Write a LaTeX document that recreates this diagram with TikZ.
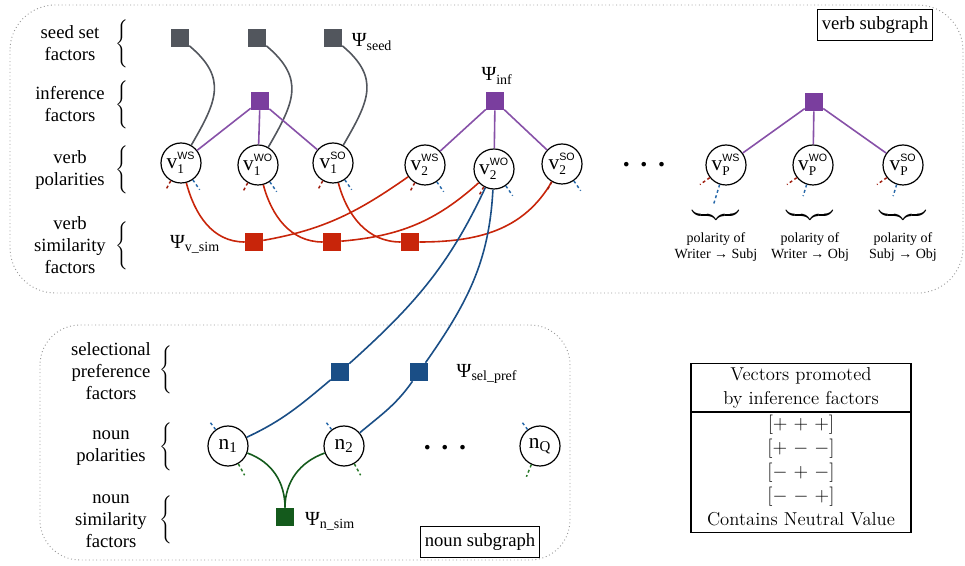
\documentclass[tikz,border=0pt]{standalone}
\usepackage{fontspec}
\usepackage{amsmath}
\newfontfamily\tms{Liberation Serif}
\newfontfamily\arl{Liberation Sans}

\definecolor{cseed}{RGB}{82,86,93}
\definecolor{cinf}{RGB}{122,62,158}
\definecolor{csim}{RGB}{200,37,10}
\definecolor{cpref}{RGB}{26,78,134}
\definecolor{cnsim}{RGB}{20,90,28}
\definecolor{cstubr}{RGB}{160,30,15}
\definecolor{cstubb}{RGB}{40,105,170}
\definecolor{cstubg}{RGB}{40,120,40}

\newcommand{\vpol}[2]{\makebox[0pt]{v$_{\hbox{\fontsize{10}{10}\selectfont#1}}^{\hbox{\arl\fontsize{8}{8}\selectfont#2}}$}}
\newcommand{\sbrace}{$\Bigg\{$}

\begin{document}
\begin{tikzpicture}[x=0.75pt, y=0.75pt,
    lab/.style={align=center, font=\tms\fontsize{14}{16.5}\selectfont},
    small/.style={align=center, font=\tms\fontsize{10.5}{12.5}\selectfont},
    psi/.style={font=\tms\fontsize{15}{17}\selectfont},
    brc/.style={inner sep=0pt, font=\fontsize{11.5}{12}\selectfont},
    var/.style={draw, circle, fill=white, line width=0.9pt, minimum size=30pt, inner sep=0pt, font=\tms\fontsize{16}{16}\selectfont},
    fac/.style={rectangle, minimum size=13.5pt, inner sep=0pt},
    seedline/.style={draw=cseed, line width=1.2pt, out=-40, in=60, looseness=1.3},
    infline/.style={draw=cinf!90, line width=1.2pt},
    simline/.style={draw=csim, line width=1.2pt},
    prefline/.style={draw=cpref, line width=1.2pt},
    nsimline/.style={draw=cnsim, line width=1.2pt},
    rstub/.style={draw=cstubr, line width=1.1pt, dash pattern=on 2.2pt off 2pt},
    bstub/.style={draw=cstubb, line width=1.1pt, dash pattern=on 2.2pt off 2pt},
    gstub/.style={draw=cstubg, line width=1.1pt, dash pattern=on 2.2pt off 2pt}]
  \useasboundingbox (0,0) rectangle (965,-566);

  % subgraph frames
  \draw[gray!80, dotted, line width=0.7pt, rounded corners=34pt] (10,-5) rectangle (963,-293);
  \draw[gray!80, dotted, line width=0.7pt, rounded corners=30pt] (40,-325) rectangle (570,-560);
  \node[draw, lab, line width=0.8pt, inner xsep=3pt, minimum height=23pt] (vsub) at (875,-25) {verb subgraph};
  \node[draw, lab, line width=0.8pt, inner xsep=3pt, minimum height=23pt] (nsub) at (480,-542) {noun subgraph};

  % row labels
  \node[lab] (lseed) at (70,-43) {seed set\\factors};
  \node[lab] (linf) at (70,-104) {inference\\factors};
  \node[lab] (lvpol) at (70,-170) {verb\\polarities};
  \node[lab] (lvsim) at (70,-245) {verb\\similarity\\factors};
  \node[lab] (lsel) at (111,-371) {selectional\\preference\\factors};
  \node[lab] (lnpol) at (111,-448) {noun\\polarities};
  \node[lab] (lnsim) at (111,-521) {noun\\similarity\\factors};
  \node[brc] (bseed) at (122,-44) {\sbrace};
  \node[brc] (binf) at (122,-105) {\sbrace};
  \node[brc] (bvpol) at (122,-170) {\sbrace};
  \node[brc] (bvsim) at (122,-246) {\sbrace};
  \node[brc] (bsel) at (166,-370) {\sbrace};
  \node[brc] (bnpol) at (166,-447) {\sbrace};
  \node[brc] (bnsim) at (166,-520) {\sbrace};

  % verb variables
  \node[var] (v1ws) at (181,-163) {\vpol{1}{WS}};
  \node[var] (v1wo) at (258,-165) {\vpol{1}{WO}};
  \node[var] (v1so) at (333,-163) {\vpol{1}{SO}};
  \node[var] (v2ws) at (425,-165) {\vpol{2}{WS}};
  \node[var] (v2wo) at (494,-169) {\vpol{2}{WO}};
  \node[var] (v2so) at (562,-164) {\vpol{2}{SO}};
  \node[var] (vpws) at (726,-165) {\vpol{P}{WS}};
  \node[var] (vpwo) at (813,-165) {\vpol{P}{WO}};
  \node[var] (vpso) at (903,-165) {\vpol{P}{SO}};
  \node[font=\tms\fontsize{21}{21}\selectfont\bfseries] (vdots) at (644,-165) {.\hspace{8pt}.\hspace{8pt}.};

  % noun variables
  \node[var] (n1) at (228,-446) {n\textsubscript{1}};
  \node[var] (n2) at (344,-446) {n\textsubscript{2}};
  \node[var] (nq) at (540,-446) {n\textsubscript{Q}};
  \node[font=\tms\fontsize{21}{21}\selectfont\bfseries] (ndots) at (445,-448) {.\hspace{8pt}.\hspace{8pt}.};

  % factors
  \node[fac, fill=cseed] (sd1) at (180,-38) {};
  \node[fac, fill=cseed] (sd2) at (257,-38) {};
  \node[fac, fill=cseed] (sd3) at (333,-38) {};
  \node[fac, fill=cinf] (if1) at (260,-101) {};
  \node[fac, fill=cinf] (if2) at (495,-101) {};
  \node[fac, fill=cinf] (if3) at (814,-102) {};
  \node[fac, fill=csim] (r1) at (254,-242) {};
  \node[fac, fill=csim] (r2) at (332,-242) {};
  \node[fac, fill=csim] (r3) at (410,-242) {};
  \node[fac, fill=cpref] (sp1) at (340,-372) {};
  \node[fac, fill=cpref] (sp2) at (419,-372) {};
  \node[fac, fill=cnsim] (g) at (285,-517) {};

  \node[psi] (pseed) at (372,-42) {Ψ\textsubscript{seed}};
  \node[psi] (pinf) at (497,-76) {Ψ\textsubscript{inf}};
  \node[psi] (pvsim) at (195,-244) {Ψ\textsubscript{v\_sim}};
  \node[psi] (psel) at (487,-374) {Ψ\textsubscript{sel\_pref}};
  \node[psi] (pnsim) at (330,-521) {Ψ\textsubscript{n\_sim}};

  % connections
  \draw[seedline] (sd1) to (v1ws) (sd2) to (v1wo) (sd3) to (v1so);
  \draw[infline] (if1) -- (v1ws) (if1) -- (v1wo) (if1) -- (v1so);
  \draw[infline] (if2) -- (v2ws) (if2) -- (v2wo) (if2) -- (v2so);
  \draw[infline] (if3) -- (vpws) (if3) -- (vpwo) (if3) -- (vpso);
  \draw[simline] (v1ws) to[out=-75,in=180] (r1) (r1) to[out=10,in=-145] (v2ws);
  \draw[simline] (v1wo) to[out=-75,in=180] (r2) (r2) to[out=5,in=-138] (v2wo);
  \draw[simline] (v1so) to[out=-75,in=180] (r3) (r3) to[out=0,in=-120] (v2so);
  \draw[prefline] (n1) to[out=25,in=-140] (sp1) (sp1) to[out=42,in=-115] (v2wo);
  \draw[prefline] (n2) to[out=40,in=-125] (sp2) (sp2) to[out=55,in=-93] (v2wo);
  \draw[nsimline] (n1) to[out=-20,in=90] (g) (n2) to[out=-160,in=90] (g);

  % loose ends
  \draw[rstub] (v1ws.-120) -- ++(-118:11) (v1wo.-120) -- ++(-118:11) (v1so.-120) -- ++(-118:11)
    (v2ws.-120) -- ++(-118:11) (v2wo.-120) -- ++(-118:11) (v2so.-120) -- ++(-118:11)
    (vpws.-142) -- ++(-145:12) (vpwo.-142) -- ++(-145:12) (vpso.-142) -- ++(-145:12);
  \draw[bstub] (v1ws.-55) -- ++(-55:12) (v1wo.-55) -- ++(-55:12) (v1so.-55) -- ++(-55:12)
    (v2ws.-55) -- ++(-55:12) (v2wo.-55) -- ++(-55:12) (v2so.-55) -- ++(-55:12)
    (vpws.-108) -- ++(-107:20) (vpwo.-108) -- ++(-107:12) (vpso.-108) -- ++(-107:12);
  \draw[bstub] (n1.127) -- ++(127:9) (n2.127) -- ++(127:9) (nq.127) -- ++(127:9);
  \draw[gstub] (n1.-60) -- ++(-61:13) (n2.-60) -- ++(-61:13) (nq.-115) -- ++(-112:13);

  % polarity braces
  \node[brc, scale=1.2] (bws) at (716,-215) {$\underbrace{\hspace{29pt}}$};
  \node[brc, scale=1.2] (bwo) at (810,-215) {$\underbrace{\hspace{29pt}}$};
  \node[brc, scale=1.2] (bso) at (903,-215) {$\underbrace{\hspace{29pt}}$};
  \node[small] (tws) at (716,-247) {polarity of\\Writer → Subj};
  \node[small] (two) at (810,-247) {polarity of\\Writer → Obj};
  \node[small] (tso) at (903,-247) {polarity of\\Subj → Obj};

  % table
  \node[draw, line width=0.8pt, inner sep=0pt, font=\fontsize{14}{18}\selectfont] (tbl) at (801,-448)
    {\setlength{\tabcolsep}{12pt}\setlength{\arrayrulewidth}{0.8pt}%
     \begin{tabular}{c}
       Vectors promoted\\
       by inference factors\\ \hline
       $[{+}\ {+}\ {+}]$\\
       $[{+}\ {-}\ {-}]$\\
       $[{-}\ {+}\ {-}]$\\
       $[{-}\ {-}\ {+}]$\\
       Contains Neutral Value
     \end{tabular}};
\end{tikzpicture}
\end{document}
